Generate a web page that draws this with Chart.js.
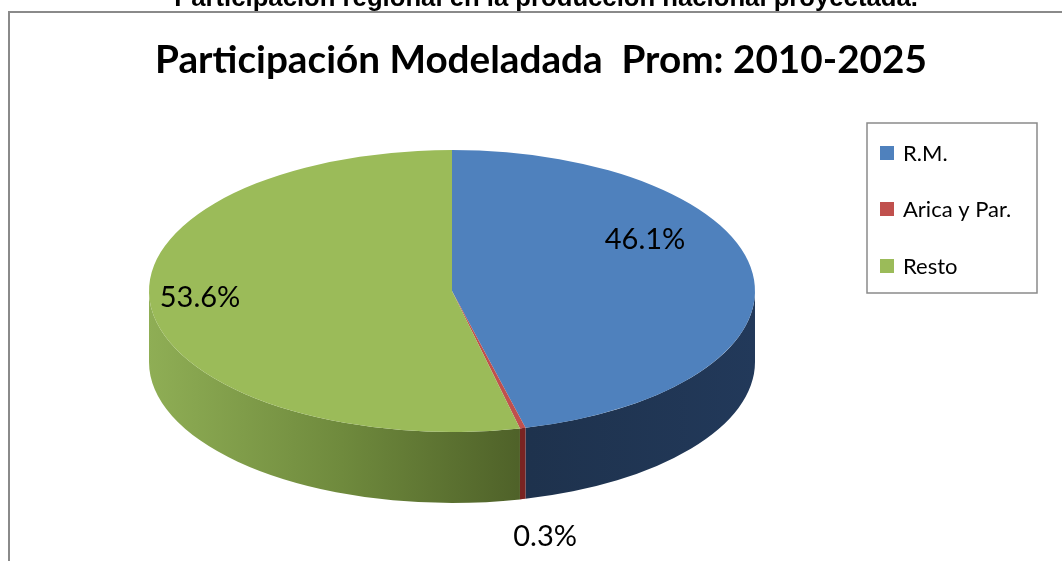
<!DOCTYPE html>
<html><head><meta charset="utf-8">
<script src="https://cdn.jsdelivr.net/npm/chart.js@4.4.0/dist/chart.umd.min.js"></script>
<style>html,body{margin:0;padding:0;background:#fff;overflow:hidden}#wrap{width:1062px;height:561px}</style>
</head><body><div id="wrap"><canvas id="c" width="1062" height="561"></canvas></div>
<script>
const pageTitle = "Participación regional en la producción nacional proyectada.";
const chartTitle = "Participación Modeladada  Prom: 2010-2025";
const categories = ["R.M.", "Arica y Par.", "Resto"];
const shares = [46.1, 0.3, 53.6];
const valueLabels = ["46.1%", "0.3%", "53.6%"];
const topColors = ["#4F81BD", "#C0504D", "#9BBB59"];

// layout of the 3D disc (styling only)
const CX = 452, CY = 291, RX = 303, RY = 141, DEPTH = 71;
const labelPlace = [{f:0.642, dy:-40}, {f:1.317, dy:65}, {f:0.837, dy:-7}];

function sideFill(ctx, i){
  if (i === 0) {
    const g = ctx.createLinearGradient(530, 0, 756, 0);
    g.addColorStop(0, "#1E324D"); g.addColorStop(1, "#22395A");
    return g;
  }
  if (i === 1) return "#7A2422";
  const g = ctx.createLinearGradient(148, 0, 535, 0);
  g.addColorStop(0, "#8FAE55"); g.addColorStop(0.5, "#6F8A3D"); g.addColorStop(1, "#4C5E27");
  return g;
}

const pie3d = {
  id: 'pie3d',
  beforeDatasetsDraw(chart) {
    const ctx = chart.ctx;
    const meta = chart.getDatasetMeta(0);
    meta.data.forEach((arc, i) => {
      const a1 = Math.max(arc.startAngle, 0), a2 = Math.min(arc.endAngle, Math.PI);
      if (a2 <= a1) return;
      ctx.save();
      ctx.beginPath();
      ctx.ellipse(CX, CY, RX, RY, 0, a1, a2, false);
      ctx.lineTo(CX + RX * Math.cos(a2), CY + DEPTH + RY * Math.sin(a2));
      ctx.ellipse(CX, CY + DEPTH, RX, RY, 0, a2, a1, true);
      ctx.closePath();
      ctx.fillStyle = sideFill(ctx, i);
      ctx.fill();
      ctx.restore();
    });
    const a = meta.data[0];
    ctx.save();
    ctx.translate(CX, CY);
    ctx.scale(RX / a.outerRadius, RY / a.outerRadius);
    ctx.translate(-a.x, -a.y);
  },
  afterDatasetsDraw(chart) {
    const ctx = chart.ctx;
    ctx.restore();
    const meta = chart.getDatasetMeta(0);
    ctx.save();
    ctx.fillStyle = "#000";
    ctx.font = "29px Lato";
    ctx.textAlign = "center"; ctx.textBaseline = "middle";
    meta.data.forEach((arc, i) => {
      const m = (arc.startAngle + arc.endAngle) / 2;
      const p = labelPlace[i];
      ctx.fillText(valueLabels[i], CX + RX * p.f * Math.cos(m), CY + RY * p.f * Math.sin(m) + p.dy);
    });
    ctx.restore();
  },
  afterDraw(chart) {
    const ctx = chart.ctx;
    ctx.save();
    // outer frame
    ctx.strokeStyle = "#8A8A8A"; ctx.lineWidth = 2;
    ctx.beginPath(); ctx.moveTo(9, 570); ctx.lineTo(9, 12); ctx.lineTo(1070, 12); ctx.stroke();
    // page heading (cut off at top)
    ctx.fillStyle = "#000";
    ctx.font = "bold 25.7px 'Liberation Sans'";
    ctx.textAlign = "center"; ctx.textBaseline = "alphabetic";
    ctx.fillText(pageTitle, 546, 5.5);
    // chart title
    let fs = 100;
    ctx.font = "bold " + fs + "px Lato";
    fs = fs * 773 / ctx.measureText(chartTitle).width;
    ctx.font = "bold " + fs.toFixed(1) + "px Lato";
    ctx.textBaseline = "middle";
    ctx.fillText(chartTitle, 541, 61);
    // legend
    ctx.strokeStyle = "#8A8A8A"; ctx.lineWidth = 1.5;
    ctx.strokeRect(867, 123, 170, 170);
    ctx.font = "22px Lato"; ctx.textAlign = "left";
    const ys = [153, 209, 266];
    chart.data.labels.forEach((lab, i) => {
      ctx.fillStyle = chart.data.datasets[0].backgroundColor[i];
      ctx.fillRect(880, ys[i] - 7, 14, 14);
      ctx.fillStyle = "#000";
      ctx.fillText(lab, 903, ys[i] + 1);
    });
    ctx.restore();
  }
};

new Chart(document.getElementById('c'), {
  type: 'pie',
  data: { labels: categories, datasets: [{ data: shares, backgroundColor: topColors, borderWidth: 0, clip: false }] },
  options: {
    responsive: false, animation: false, events: [],
    layout: { padding: 0 },
    plugins: { legend: { display: false }, tooltip: { enabled: false }, title: { display: false } }
  },
  plugins: [pie3d]
});
</script></body></html>
